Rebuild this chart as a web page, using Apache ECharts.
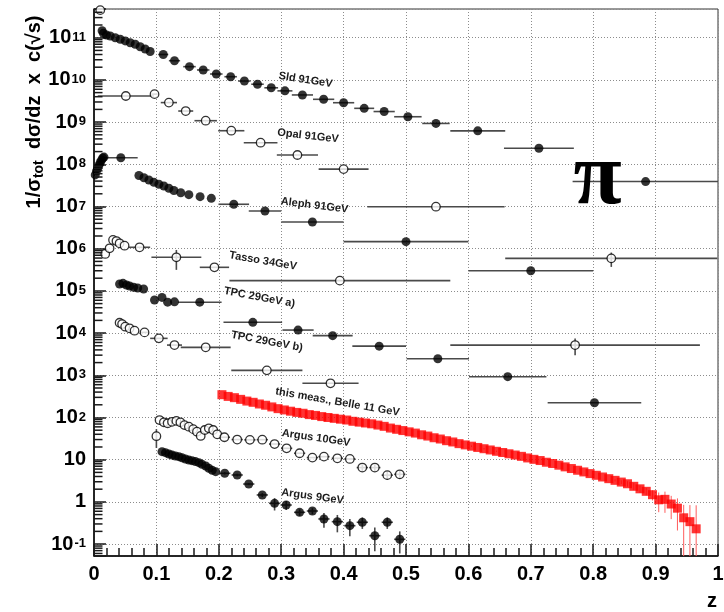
<!DOCTYPE html>
<html>
<head>
<meta charset="utf-8">
<title>Pion fragmentation z-spectra</title>
<script src="https://cdn.jsdelivr.net/npm/echarts@6/dist/echarts.min.js"></script>
<style>
  html, body { margin: 0; padding: 0; background: #ffffff; }
  #chart { width: 724px; height: 612px; }
</style>
</head>
<body>
<div id="chart"></div>
<script>
// ---- Measurements: z (bin centre), 1/σ dσ/dz × c(√s), half bin width, error ----

// Sld 91 GeV (filled)
const sldZ   = [0.013, 0.015, 0.020, 0.026, 0.034, 0.042, 0.050, 0.058, 0.066, 0.074, 0.082, 0.090,
                0.111, 0.129, 0.153, 0.175, 0.196, 0.219, 0.241, 0.262, 0.284, 0.306, 0.334, 0.368,
                0.400, 0.433, 0.465, 0.503, 0.548, 0.615, 0.713, 0.884];
const sldVal = [1.47e11, 1.27e11, 1.16e11, 1.10e11, 1.0e11, 9.2e10, 8.4e10, 7.6e10, 7.0e10, 6.1e10, 5.4e10, 4.7e10,
                4.0e10, 2.85e10, 2.06e10, 1.72e10, 1.38e10, 1.19e10, 9.4e9, 7.9e9, 6.5e9, 5.5e9, 4.4e9, 3.47e9,
                2.88e9, 2.12e9, 1.78e9, 1.34e9, 9.3e8, 6.2e8, 2.4e8, 3.9e7];
const sldDz  = [0, 0, 0, 0, 0, 0, 0, 0, 0, 0, 0, 0,
                0.008, 0.009, 0.010, 0.010, 0.010, 0.010, 0.010, 0.010, 0.011, 0.012, 0.017, 0.017,
                0.017, 0.016, 0.017, 0.022, 0.022, 0.044, 0.056, 0.117];

// Opal 91 GeV (open)
const opalZ   = [0.010, 0.051, 0.097, 0.120, 0.147, 0.179, 0.220, 0.267, 0.326, 0.400, 0.548, 0.829];
const opalVal = [4.5e11, 4.15e9, 4.6e9, 2.9e9, 1.83e9, 1.08e9, 6.25e8, 3.25e8, 1.66e8, 7.7e7, 9.9e6, 5.9e5];
const opalDz  = [0, 0.045, 0.005, 0.013, 0.012, 0.018, 0.021, 0.027, 0.033, 0.040, 0.110, 0.170];
const opalErr = [0, 0, 0, 0, 0, 0, 0, 0, 0, 0, 0, 2.2e5];

// Aleph 91 GeV (filled)
const alephZ   = [0.002, 0.004, 0.006, 0.008, 0.010, 0.012, 0.014, 0.016, 0.043,
                  0.072, 0.080, 0.088, 0.096, 0.104, 0.112, 0.120, 0.128, 0.139, 0.152, 0.170, 0.188,
                  0.224, 0.274, 0.350, 0.500, 0.700];
const alephVal = [5.6e7, 6.9e7, 8.1e7, 9.5e7, 1.1e8, 1.26e8, 1.41e8, 1.48e8, 1.43e8,
                  5.43e7, 4.81e7, 4.25e7, 3.74e7, 3.36e7, 3.06e7, 2.70e7, 2.39e7, 2.12e7, 1.91e7, 1.71e7, 1.56e7,
                  1.13e7, 7.8e6, 4.3e6, 1.47e6, 3.0e5];
const alephDz  = [0, 0, 0, 0, 0, 0, 0, 0, 0.027,
                  0, 0, 0, 0, 0, 0, 0, 0, 0, 0, 0, 0,
                  0.0245, 0.026, 0.050, 0.100, 0.100];

// Tasso 34 GeV (open)
const tassoZ   = [0.018, 0.025, 0.0305, 0.036, 0.041, 0.049, 0.073, 0.132, 0.193, 0.394];
const tassoVal = [7.5e5, 1.02e6, 1.61e6, 1.52e6, 1.34e6, 1.18e6, 1.08e6, 6.25e5, 3.62e5, 1.75e5];
const tassoDz  = [0, 0, 0, 0, 0, 0, 0.017, 0.040, 0.0235, 0.177];
const tassoErr = [0, 0, 0, 0, 0, 0, 0, 3.1e5, 0, 0];

// TPC 29 GeV a) (filled)
const tpcAZ   = [0.041, 0.0465, 0.052, 0.057, 0.0635, 0.070, 0.0795, 0.097, 0.109, 0.118, 0.129,
                 0.1695, 0.2545, 0.327, 0.3825, 0.457, 0.551, 0.663, 0.802];
const tpcAVal = [1.46e5, 1.51e5, 1.38e5, 1.31e5, 1.22e5, 1.17e5, 1.11e5, 6.1e4, 7.0e4, 5.4e4, 5.5e4,
                 5.4e4, 1.8e4, 1.18e4, 8.7e3, 4.9e3, 2.47e3, 927, 224];
const tpcADz  = [0, 0, 0, 0, 0, 0, 0, 0, 0, 0, 0,
                 0.035, 0.047, 0.025, 0.032, 0.043, 0.050, 0.062, 0.075];

// TPC 29 GeV b) (open)
const tpcBZ   = [0.041, 0.045, 0.050, 0.057, 0.065, 0.081, 0.104, 0.129, 0.179, 0.277, 0.379, 0.771];
const tpcBVal = [1.76e4, 1.64e4, 1.42e4, 1.3e4, 1.14e4, 1.04e4, 7.5e3, 5.2e3, 4.6e3, 1.31e3, 646, 5.2e3];
const tpcBDz  = [0, 0, 0, 0, 0, 0.006, 0.014, 0.012, 0.040, 0.057, 0.045, 0.200];
const tpcBErr = [0, 0, 0, 0, 0, 0, 0, 0, 0, 0, 0, 2.2e3];

// Argus 10 GeV (open)
const argus10Z   = [0.100, 0.105, 0.112, 0.118, 0.125, 0.132, 0.1385, 0.145, 0.152, 0.159, 0.165, 0.171,
                    0.1775, 0.184, 0.191, 0.1975, 0.209, 0.2295, 0.2498, 0.2697, 0.2894, 0.3087, 0.3295,
                    0.350, 0.3685, 0.390, 0.410, 0.430, 0.450, 0.470, 0.490];
const argus10Val = [36, 87, 77, 73, 79, 83, 77, 66, 60.5, 53, 46, 36.5,
                    50.6, 55.5, 50.6, 40, 34, 30, 29.5, 29.8, 23.5, 18.6, 14.2,
                    11.2, 11.8, 10.8, 10.4, 6.5, 6.5, 4.3, 4.5];
const argus10Dz  = [0, 0, 0, 0, 0, 0, 0, 0, 0, 0, 0, 0,
                    0, 0, 0, 0, 0.009, 0.009, 0.009, 0.009, 0.009, 0.009, 0.009,
                    0.009, 0.009, 0.009, 0.009, 0.009, 0.009, 0.009, 0.009];
const argus10Err = [17, 0, 0, 0, 0, 0, 0, 0, 0, 0, 0, 0,
                    0, 0, 0, 0, 0, 0, 0, 0, 0, 0, 0,
                    0, 0, 0, 0, 1.2, 1.2, 1.0, 1.0];

// Argus 9 GeV (filled)
const argus9Z   = [0.109, 0.1145, 0.120, 0.125, 0.1305, 0.136, 0.141, 0.1465, 0.152, 0.157, 0.1625, 0.168,
                   0.173, 0.179, 0.184, 0.1895, 0.195, 0.2095, 0.2295, 0.248, 0.2697, 0.2894, 0.308,
                   0.3295, 0.350, 0.3685, 0.390, 0.410, 0.430, 0.450, 0.470, 0.490];
const argus9Val = [15.5, 14.7, 13.6, 12.9, 12.2, 11.8, 11.1, 10.4, 9.8, 9.5, 9.0, 8.5,
                   7.8, 7.1, 6.25, 5.6, 5.2, 4.76, 4.34, 2.65, 1.46, 0.925, 0.843,
                   0.566, 0.608, 0.394, 0.34, 0.273, 0.329, 0.158, 0.329, 0.13];
const argus9Dz  = [0, 0, 0, 0, 0, 0, 0, 0, 0, 0, 0, 0,
                   0, 0, 0, 0, 0, 0.009, 0.009, 0.009, 0.009, 0.009, 0.009,
                   0.009, 0.009, 0.009, 0.009, 0.009, 0.009, 0.009, 0.009, 0.009];
const argus9Err = [0, 0, 0, 0, 0, 0, 0, 0, 0, 0, 0, 0,
                   0, 0, 0, 0, 0, 0.3, 0.3, 0.15, 0.15, 0.3, 0.2,
                   0.1, 0.1, 0.15, 0.15, 0.12, 0.1, 0.09, 0.1, 0.07];

// this measurement, Belle 11 GeV (red squares, 0.01 bins)
const belleZ = [0.205, 0.215, 0.225, 0.235, 0.245, 0.255, 0.265, 0.275, 0.285, 0.295,
                0.305, 0.315, 0.325, 0.335, 0.345, 0.355, 0.365, 0.375, 0.385, 0.395,
                0.405, 0.415, 0.425, 0.435, 0.445, 0.455, 0.465, 0.475, 0.485, 0.495,
                0.505, 0.515, 0.525, 0.535, 0.545, 0.555, 0.565, 0.575, 0.585, 0.595,
                0.605, 0.615, 0.625, 0.635, 0.645, 0.655, 0.665, 0.675, 0.685, 0.695,
                0.705, 0.715, 0.725, 0.735, 0.745, 0.755, 0.765, 0.775, 0.785, 0.795,
                0.805, 0.815, 0.825, 0.835, 0.845, 0.855, 0.865, 0.875, 0.885, 0.895,
                0.905, 0.915, 0.925, 0.935, 0.945, 0.955, 0.965];
const belleVal = [347, 316, 295, 269, 245, 229, 209, 195, 178, 162,
                  151, 141, 132, 126, 117, 112, 105, 100, 95.5, 91.2,
                  87.1, 81.3, 77.6, 74.1, 70.8, 66.1, 61.7, 56.2, 52.5, 49.0,
                  45.7, 42.7, 38.9, 36.3, 33.1, 30.9, 28.2, 26.3, 24.0, 22.4,
                  20.9, 19.5, 18.2, 17.0, 15.8, 14.8, 13.8, 12.9, 12.0, 11.0,
                  10.2, 9.55, 8.71, 8.13, 7.41, 6.76, 6.17, 5.62, 5.13, 4.68,
                  4.27, 3.89, 3.55, 3.24, 2.95, 2.69, 2.34, 2.04, 1.78, 1.48,
                  1.12, 1.15, 0.89, 0.71, 0.42, 0.34, 0.23];
const belleErr = [0, 0, 0, 0, 0, 0, 0, 0, 0, 0,
                  0, 0, 0, 0, 0, 0, 0, 0, 0, 0,
                  0, 0, 0, 0, 0, 0, 0, 0, 0, 0,
                  0, 0, 0, 0, 0, 0, 0, 0, 0, 0,
                  0.9, 0, 0.7, 0, 0.6, 0, 0, 0, 0, 0,
                  0, 0, 0, 0, 0, 0, 0, 0, 0, 0,
                  0, 0, 0, 0.2, 0.3, 0.4, 0.45, 0.4, 0.35, 0.4,
                  0.55, 0.6, 0.5, 0.5, 0.43, 0.5, 0.6];

// ---- Axis range ----
const zMin = 0, zMax = 1;
const yMin = 0.0522, yMax = 4.79e11;

// ---- Styling ----
const FONT = "'Liberation Sans', Arial, Helvetica, sans-serif";
const BAR = '#4a4a4a';
const TICK = '#1a1a1a';

function rows(z, v, dz, dv) {
  return z.map((x, i) => [x, v[i], dz ? dz[i] : 0, dv ? dv[i] : 0]);
}

// horizontal (bin width) and vertical (uncertainty) bars
function errorBars(rowsData, color, width, z) {
  return {
    type: 'custom',
    xAxisIndex: 0, yAxisIndex: 0,
    clip: true, silent: true, z: z || 2,
    animation: false,
    data: rowsData,
    renderItem(params, api) {
      const x = api.value(0), y = api.value(1), dx = api.value(2), dy = api.value(3);
      const c = api.coord([x, y]);
      const kids = [];
      if (dx > 0) {
        const a = api.coord([Math.max(zMin, x - dx), y]);
        const b = api.coord([Math.min(zMax, x + dx), y]);
        kids.push({ type: 'line', shape: { x1: a[0], y1: c[1], x2: b[0], y2: c[1] },
                    style: { stroke: color, lineWidth: width } });
      }
      if (dy > 0) {
        const lo = Math.max(y - dy, yMin), hi = Math.min(y + dy, yMax);
        const a = api.coord([x, lo]), b = api.coord([x, hi]);
        kids.push({ type: 'line', shape: { x1: c[0], y1: a[1], x2: c[0], y2: b[1] },
                    style: { stroke: color, lineWidth: width } });
      }
      return { type: 'group', children: kids };
    }
  };
}

function markers(rowsData, open) {
  return {
    type: 'scatter',
    xAxisIndex: 0, yAxisIndex: 0,
    silent: true, animation: false, z: 3,
    symbol: 'circle', symbolSize: open ? 8.5 : 9,
    data: rowsData.map(r => [r[0], r[1]]),
    itemStyle: open ? { color: '#ffffff', borderColor: '#000000', borderWidth: 1.3 }
                    : { color: '#000000', borderWidth: 0 }
  };
}

// log-scale minor tick marks (2..9 × 10^k) along the left axis, placed by the log axis
const minorTicks = {
  type: 'custom',
  xAxisIndex: 0, yAxisIndex: 0,
  silent: true, animation: false, z: 20, clip: false,
  data: [[0.5, 1]],
  renderItem(params, api) {
    const kids = [];
    for (let k = -2; k <= 11; k++) {
      for (let m = 2; m <= 9; m++) {
        const v = m * Math.pow(10, k);
        if (v <= yMin || v >= yMax) continue;
        const p = api.coord([zMin, v]);
        kids.push({ type: 'rect', shape: { x: p[0], y: p[1] - 0.75, width: 8.5, height: 1.5 },
                    style: { fill: TICK } });
      }
    }
    return { type: 'group', children: kids };
  }
};

const sets = [
  [rows(sldZ, sldVal, sldDz), false],
  [rows(opalZ, opalVal, opalDz, opalErr), true],
  [rows(alephZ, alephVal, alephDz), false],
  [rows(tassoZ, tassoVal, tassoDz, tassoErr), true],
  [rows(tpcAZ, tpcAVal, tpcADz), false],
  [rows(tpcBZ, tpcBVal, tpcBDz, tpcBErr), true],
  [rows(argus10Z, argus10Val, argus10Dz, argus10Err), true],
  [rows(argus9Z, argus9Val, argus9Dz, argus9Err), false]
];

const series = [];
sets.forEach(([d, open]) => {
  series.push(errorBars(d, BAR, 1.6));
  series.push(markers(d, open));
});

const belleRows = rows(belleZ, belleVal, null, belleErr);
series.push(errorBars(belleRows, '#ff5c5c', 1, 5));
series.push({
  type: 'scatter',
  xAxisIndex: 0, yAxisIndex: 0,
  silent: true, animation: false, z: 6,
  symbol: 'rect', symbolSize: 9,
  data: belleRows.map(r => [r[0], r[1]]),
  itemStyle: { color: '#ff0000', borderWidth: 0 }
});
series.push(minorTicks);

// dataset captions drawn along the curves
const captionStyle = { font: 'bold 11px ' + FONT, fill: '#1c1c1c', align: 'center', verticalAlign: 'middle' };
const captions = [
  ['Sld 91GeV', 305.5, 80, -8.9],
  ['Opal 91GeV', 308, 136, -6.3],
  ['Aleph 91GeV', 314.5, 205.5, -7.0],
  ['Tasso 34GeV', 263, 261, -9.9],
  ['TPC 29GeV a)', 259.5, 297.5, -10.6],
  ['TPC 29GeV b)', 267, 341.5, -10.6],
  ['this meas., Belle 11 GeV', 337.5, 402, -9.8],
  ['Argus 10GeV', 316, 438, -8.3],
  ['Argus 9GeV', 312.5, 496.5, -7.7]
].map(([t, x, y, deg]) => ({
  type: 'text', x: x, y: y, rotation: deg * Math.PI / 180, z: 50,
  style: Object.assign({ text: t }, captionStyle)
}));

const graphic = captions.concat([
  {
    type: 'text', x: 597.5, y: 180, z: 50,
    style: { text: 'π', font: 'bold 88px "Liberation Serif", "Times New Roman", serif',
             fill: '#000', align: 'center', verticalAlign: 'middle' }
  },
  {
    type: 'text', x: 712, y: 601, z: 50,
    style: { text: 'z', font: 'bold 20px ' + FONT, fill: '#000', align: 'center', verticalAlign: 'middle' }
  },
  {
    type: 'text', x: 34, y: 112, rotation: Math.PI / 2, z: 50,
    style: {
      text: '{t|1/σ}{u|tot}{t|  dσ/dz  x  c(√s)}',
      align: 'center', verticalAlign: 'middle', fill: '#000',
      rich: {
        t: { fontSize: 20, fontWeight: 'bold', fontFamily: FONT, lineHeight: 24, fill: '#000' },
        u: { fontSize: 14, fontWeight: 'bold', fontFamily: FONT, lineHeight: 14,
             verticalAlign: 'bottom', padding: [8, 0, 0, 0], fill: '#000' }
      }
    }
  }
]);

const gridLine = { show: true, lineStyle: { color: '#8c8c8c', width: 1, type: [1, 2] } };

const option = {
  backgroundColor: '#ffffff',
  animation: false,
  grid: {
    left: 94, right: 6, top: 9, bottom: 56,
    show: true, borderColor: '#333333', borderWidth: 1, backgroundColor: 'transparent',
    containLabel: false, outerBoundsMode: 'none'
  },
  xAxis: [{
    type: 'value', min: zMin, max: zMax, interval: 0.1,
    axisLine: { show: true, onZero: false, lineStyle: { color: '#000', width: 1.5 } },
    axisTick: { show: true, inside: true, length: 12, lineStyle: { color: TICK, width: 1.5 } },
    minorTick: { show: true, splitNumber: 5, length: 8, lineStyle: { color: TICK, width: 1.5 } },
    axisLabel: { margin: 8, color: '#000', fontFamily: FONT, fontWeight: 'bold', fontSize: 20,
                 showMinLabel: true, showMaxLabel: true },
    splitLine: gridLine,
    minorSplitLine: { show: false }
  }],
  yAxis: [
    {
      // data scale: logarithmic
      type: 'log', logBase: 10, min: yMin, max: yMax, position: 'left',
      axisLine: { show: false }, axisTick: { show: false },
      axisLabel: { show: false }, splitLine: { show: false }, minorTick: { show: false }
    },
    {
      // decade ticks, labels and grid (exponent space, same span)
      type: 'value', min: Math.log10(yMin), max: Math.log10(yMax), splitNumber: 13,
      position: 'left',
      axisLine: { show: true, onZero: false, lineStyle: { color: '#000', width: 1.5 } },
      axisTick: { show: true, inside: true, length: 12, lineStyle: { color: TICK, width: 1.5 } },
      splitLine: gridLine,
      axisLabel: {
        margin: 8, color: '#000',
        showMinLabel: true, showMaxLabel: true,
        formatter: function (v) {
          const k = Math.round(v);
          if (Math.abs(v - k) > 1e-6) return '';
          if (k === 0) return '{b|1}';
          if (k === 1) return '{b|10}';
          return '{b|10}{s|' + k + '}';
        },
        rich: {
          b: { fontSize: 20, fontWeight: 'bold', fontFamily: FONT, color: '#000',
               lineHeight: 20, verticalAlign: 'bottom' },
          s: { fontSize: 13, fontWeight: 'bold', fontFamily: FONT, color: '#000',
               lineHeight: 12, verticalAlign: 'top', padding: [3, 0, 11, 1] }
        }
      }
    }
  ],
  series: series,
  graphic: graphic
};

const chart = echarts.init(document.getElementById('chart'), null, { renderer: 'canvas' });
chart.setOption(option);
</script>
</body>
</html>
